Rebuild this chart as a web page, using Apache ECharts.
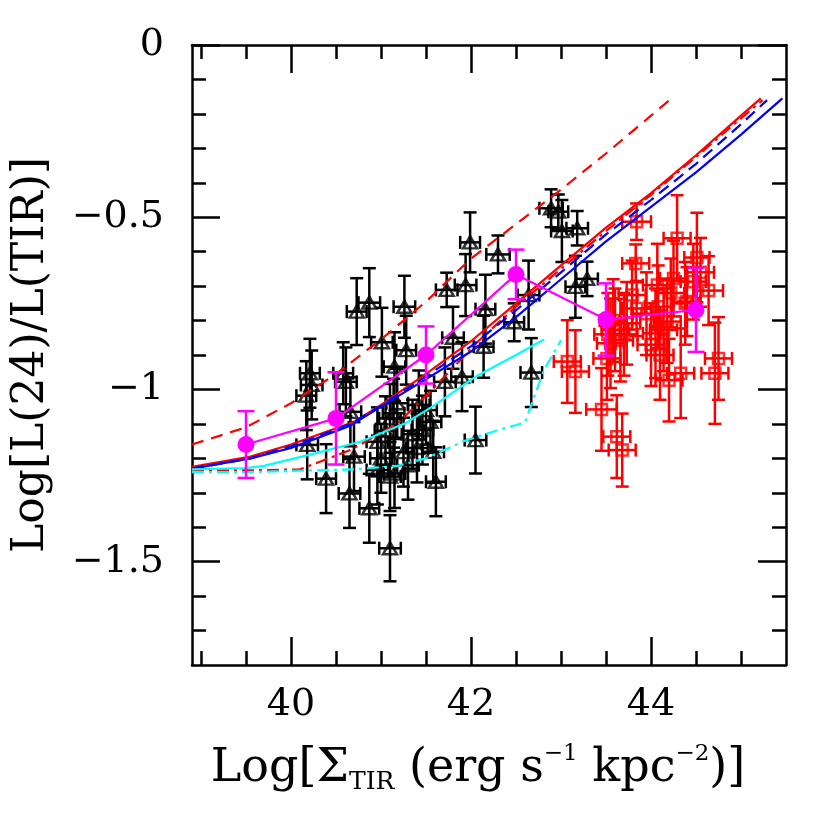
<!DOCTYPE html>
<html>
<head>
<meta charset="utf-8">
<script src="https://cdn.jsdelivr.net/npm/echarts@6.0.0/dist/echarts.min.js"></script>
<style>html,body{margin:0;padding:0;background:#fff;}#c{width:830px;height:830px;}</style>
</head>
<body>
<div id="c"></div>
<script>
// ---------- axis ticks ----------
const xMajor = [40, 42, 44];
const xMinor = [39, 39.5, 40.5, 41, 41.5, 42.5, 43, 43.5, 44.5, 45];
const yMajor = [0, -0.5, -1, -1.5];
const yMinor = [-0.1, -0.2, -0.3, -0.4, -0.6, -0.7, -0.8, -0.9, -1.1, -1.2, -1.3, -1.4, -1.6, -1.7];
const xTickLabels = ['40', '42', '44'];
const yTickLabels = ['0', '\u22120.5', '\u22121', '\u22121.5'];

// ---------- black triangles (x, y, xerr, yerr) ----------
const triX = [40.73,40.87,41.26,41.99,42.30,41.73,41.94,42.16,42.64,42.48,42.89,42.97,43.01,43.18,43.16,43.29,41.01,41.28,41.80,42.14,41.15,40.21,40.58,42.67,40.23,40.61,40.17,40.66,41.14,40.18,40.39,40.65,40.87,41.10,41.10,41.25,41.61,41.58,41.55,41.90,41.71,42.05,40.96,40.70,41.18,41.42,41.46,40.96,41.10,41.15,41.35,41.00,41.30,41.50,41.40,41.05];
const triY = [-0.774,-0.748,-0.760,-0.573,-0.608,-0.711,-0.697,-0.767,-0.726,-0.805,-0.474,-0.484,-0.540,-0.532,-0.702,-0.679,-0.863,-0.886,-0.850,-0.876,-0.934,-0.953,-0.953,-0.951,-0.987,-0.978,-1.018,-1.065,-1.069,-1.161,-1.259,-1.302,-1.345,-1.461,-1.253,-1.182,-1.268,-1.181,-1.094,-0.963,-0.978,-1.147,-1.152,-1.195,-1.040,-1.045,-1.118,-1.234,-1.084,-1.244,-1.130,-1.200,-1.220,-1.060,-1.170,-1.120];
const triXErr = [0.11,0.12,0.12,0.11,0.13,0.12,0.12,0.11,0.12,0.11,0.13,0.11,0.12,0.12,0.11,0.12,0.12,0.11,0.12,0.11,0.12,0.11,0.11,0.12,0.12,0.12,0.11,0.12,0.12,0.12,0.11,0.12,0.11,0.12,0.12,0.12,0.11,0.12,0.12,0.12,0.12,0.12,0.12,0.12,0.12,0.12,0.12,0.12,0.12,0.12,0.12,0.12,0.12,0.12,0.12,0.12];
const triYErr = [0.097,0.10,0.09,0.087,0.055,0.05,0.09,0.10,0.10,0.055,0.055,0.05,0.09,0.05,0.09,0.05,0.10,0.10,0.09,0.09,0.10,0.10,0.09,0.10,0.10,0.10,0.10,0.10,0.10,0.10,0.10,0.10,0.10,0.096,0.10,0.10,0.10,0.09,0.09,0.10,0.10,0.097,0.10,0.10,0.10,0.10,0.10,0.10,0.10,0.10,0.10,0.10,0.10,0.10,0.10,0.10];

// ---------- red squares (x, y, xerr, yerr) ----------
const sqX = [43.84,44.29,44.51,43.83,44.25,44.07,44.47,44.64,43.84,44.08,44.18,44.05,43.73,43.60,43.66,43.55,43.51,44.10,44.33,44.20,43.07,43.16,44.75,44.71,43.45,43.62,43.68,44.38,43.79,44.14,44.40,43.58,43.70,44.00,44.22,43.95,43.52,44.55];
const sqY = [-0.513,-0.561,-0.617,-0.634,-0.678,-0.697,-0.687,-0.713,-0.765,-0.760,-0.803,-0.837,-0.808,-0.827,-0.857,-0.866,-0.910,-0.900,-0.953,-0.973,-0.919,-0.948,-0.910,-0.953,-1.058,-1.137,-1.176,-0.750,-0.726,-0.827,-0.745,-0.800,-0.840,-0.870,-0.720,-0.780,-0.840,-0.660];
const sqXErr = [0.16,0.15,0.14,0.15,0.15,0.16,0.14,0.16,0.16,0.15,0.15,0.14,0.15,0.15,0.14,0.15,0.15,0.15,0.15,0.15,0.15,0.15,0.15,0.15,0.17,0.15,0.15,0.15,0.15,0.15,0.15,0.15,0.15,0.15,0.15,0.15,0.15,0.15];
const sqYErr = [0.053,0.125,0.13,0.055,0.11,0.12,0.11,0.10,0.08,0.12,0.12,0.13,0.12,0.12,0.12,0.13,0.12,0.13,0.13,0.12,0.12,0.12,0.12,0.147,0.12,0.12,0.106,0.12,0.10,0.12,0.10,0.12,0.12,0.12,0.10,0.12,0.12,0.10];

// ---------- magenta binned means ----------
const binX = [39.5, 40.5, 41.5, 42.5, 43.5, 44.5];
const binY = [-1.160, -1.084, -0.900, -0.666, -0.797, -0.769];
const binErr = [0.097, 0.134, 0.083, 0.072, 0.105, 0.122];

// ---------- model curves ----------
const redDashX = [38.9, 39.5, 40.0, 40.5, 41.0, 41.5, 42.0, 42.5, 43.0, 43.5, 44.0, 44.22];
const redDashY = [-1.16, -1.11, -1.04, -0.955, -0.855, -0.745, -0.62, -0.52, -0.42, -0.315, -0.205, -0.157];
const redSolidX = [38.9, 39.55, 40.0, 40.7, 41.0, 41.5, 42.0, 42.5, 43.0, 43.5, 44.0, 44.5, 45.0, 45.22];
const redSolidY = [-1.225, -1.195, -1.16, -1.094, -1.045, -0.955, -0.86, -0.75, -0.64, -0.53, -0.43, -0.32, -0.205, -0.155];
const redDotDashX = [38.9, 39.5, 40.1, 40.66, 41.18, 41.57, 42.08, 42.5, 43.0, 43.5, 44.0, 44.5, 45.0, 45.24];
const redDotDashY = [-1.235, -1.235, -1.232, -1.176, -1.10, -1.0, -0.86, -0.76, -0.65, -0.54, -0.435, -0.325, -0.213, -0.16];
const blueSolidX = [38.9, 39.55, 40.0, 40.66, 41.0, 41.5, 42.0, 42.5, 43.0, 43.5, 44.0, 44.5, 45.0, 45.46];
const blueSolidY = [-1.23, -1.2, -1.17, -1.105, -1.05, -0.97, -0.89, -0.79, -0.68, -0.57, -0.47, -0.37, -0.26, -0.155];
const blueDashX = [38.9, 39.55, 40.0, 40.66, 41.0, 41.5, 42.0, 42.5, 43.0, 43.5, 44.0, 44.5, 45.0, 45.29];
const blueDashY = [-1.23, -1.2, -1.165, -1.1, -1.047, -0.962, -0.875, -0.77, -0.66, -0.55, -0.45, -0.345, -0.23, -0.16];
const cyanSolidX = [38.9, 39.5, 39.7, 40.2, 40.77, 41.27, 41.57, 42.07, 42.5, 42.81];
const cyanSolidY = [-1.232, -1.228, -1.222, -1.19, -1.152, -1.098, -1.05, -0.96, -0.9, -0.855];
const cyanDotDashX = [38.9, 39.5, 40.1, 40.7, 41.18, 41.5, 41.92, 42.3, 42.6, 42.81, 43.0];
const cyanDotDashY = [-1.24, -1.24, -1.236, -1.232, -1.222, -1.2, -1.15, -1.118, -1.096, -0.944, -0.857];

// ---------- helpers ----------
const zip2 = (a, b) => a.map((v, i) => [v, b[i]]);
const zip4 = (a, b, c, d) => a.map((v, i) => [v, b[i], c[i], d[i]]);
const FONT = 'DejaVu Serif';
const EBW = 2.5;

function seg(x1, y1, x2, y2, color) {
  return { type: 'line', shape: { x1, y1, x2, y2 }, style: { stroke: color, lineWidth: EBW } };
}
function errRender(color, cap) {
  return function (params, api) {
    const x = api.value(0), y = api.value(1), xe = api.value(2), ye = api.value(3);
    const t = api.coord([x, y + ye]), b = api.coord([x, y - ye]);
    const ch = [
      seg(t[0], t[1], b[0], b[1], color),
      seg(t[0] - cap, t[1], t[0] + cap, t[1], color),
      seg(b[0] - cap, b[1], b[0] + cap, b[1], color)
    ];
    if (xe > 0) {
      const l = api.coord([x - xe, y]), r = api.coord([x + xe, y]);
      ch.push(seg(l[0], l[1], r[0], r[1], color));
      ch.push(seg(l[0], l[1] - cap, l[0], l[1] + cap, color));
      ch.push(seg(r[0], r[1] - cap, r[0], r[1] + cap, color));
    }
    return { type: 'group', children: ch };
  };
}
function curve(xs, ys, color, type) {
  return {
    type: 'line', data: zip2(xs, ys), showSymbol: false, symbol: 'none', silent: true,
    lineStyle: { color, width: 2.2, type }, z: 4, animation: false
  };
}

const axisCommon = { type: 'value', splitLine: { show: false }, scale: false };
const lineStyleK = { color: '#000', width: 2.5 };

function mkAxis(pos, min, max, ticks, len, showLine, labels) {
  const a = Object.assign({}, axisCommon, {
    position: pos, min, max,
    axisLine: { show: showLine, onZero: false, lineStyle: lineStyleK },
    axisTick: { show: true, inside: true, length: len, customValues: ticks, lineStyle: lineStyleK },
    axisLabel: { show: false }
  });
  if (labels) {
    a.axisLabel = {
      show: true, customValues: ticks, color: '#000', fontFamily: FONT, fontSize: 38,
      formatter: (v) => labels[ticks.indexOf(Math.round(v * 10) / 10)] || ''
    };
  }
  return a;
}

const xAxes = [
  mkAxis('bottom', 38.9, 45.5, xMajor, 28, true, xTickLabels),
  mkAxis('bottom', 38.9, 45.5, xMinor, 14, false, null),
  mkAxis('top', 38.9, 45.5, xMajor, 28, true, null),
  mkAxis('top', 38.9, 45.5, xMinor, 14, false, null)
];
xAxes[0].axisLabel.margin = 21;
xAxes[0].name = '{a|Log[\u03A3}{b|TIR}{a| (erg s}{c|\u22121}{a| kpc}{c|\u22122}{a|)]}';
xAxes[0].nameLocation = 'middle';
xAxes[0].nameGap = 78;
xAxes[0].nameTextStyle = {
  color: '#000', fontFamily: FONT, padding: [0, 22, 0, 0],
  rich: {
    a: { fontSize: 46, fontFamily: FONT, color: '#000', lineHeight: 52 },
    b: { fontSize: 25, fontFamily: FONT, color: '#000', verticalAlign: 'bottom', lineHeight: 4 },
    c: { fontSize: 23, fontFamily: FONT, color: '#000', verticalAlign: 'top', lineHeight: 32 }
  }
};

const yAxes = [
  mkAxis('left', -1.8, 0, yMajor, 28, true, yTickLabels),
  mkAxis('left', -1.8, 0, yMinor, 14, false, null),
  mkAxis('right', -1.8, 0, yMajor, 28, true, null),
  mkAxis('right', -1.8, 0, yMinor, 14, false, null)
];
yAxes[0].axisLabel.margin = 28;
yAxes[0].name = 'Log[L(24)/L(TIR)]';
yAxes[0].nameLocation = 'middle';
yAxes[0].nameRotate = 90;
yAxes[0].nameGap = 138;
yAxes[0].nameTextStyle = { color: '#000', fontFamily: FONT, fontSize: 44 };

const option = {
  animation: false,
  backgroundColor: '#fff',
  grid: { left: 192, right: 44, top: 45, bottom: 165, containLabel: false },
  xAxis: xAxes,
  yAxis: yAxes,
  series: [
    { type: 'custom', renderItem: errRender('#000', 6.5), data: zip4(triX, triY, triXErr, triYErr), encode: { x: 0, y: 1 }, z: 2, silent: true, clip: true },
    { type: 'scatter', data: zip2(triX, triY), symbol: 'triangle', symbolSize: [14, 12], z: 3, silent: true,
      itemStyle: { color: 'rgba(0,0,0,0)', borderColor: '#000', borderWidth: 2.5 } },
    { type: 'custom', renderItem: errRender('#ff0000', 6.5), data: zip4(sqX, sqY, sqXErr, sqYErr), encode: { x: 0, y: 1 }, z: 2, silent: true, clip: true },
    { type: 'scatter', data: zip2(sqX, sqY), symbol: 'rect', symbolSize: 11, z: 3, silent: true,
      itemStyle: { color: 'rgba(0,0,0,0)', borderColor: '#ff0000', borderWidth: 2.5 } },
    curve(redDashX, redDashY, '#ff0000', [12, 8]),
    curve(redSolidX, redSolidY, '#ff0000', 'solid'),
    curve(redDotDashX, redDotDashY, '#ff0000', [12, 5, 3, 5]),
    curve(blueDashX, blueDashY, '#0000ff', [12, 7]),
    curve(blueSolidX, blueSolidY, '#0000ff', 'solid'),
    curve(cyanSolidX, cyanSolidY, '#00ffff', 'solid'),
    curve(cyanDotDashX, cyanDotDashY, '#00ffff', [12, 5, 3, 5]),
    { type: 'custom', renderItem: errRender('#ff00ff', 8.5), data: zip4(binX, binY, binX.map(() => 0), binErr), encode: { x: 0, y: 1 }, z: 5, silent: true },
    { type: 'line', data: zip2(binX, binY), symbol: 'circle', symbolSize: 17, showSymbol: true, z: 6, silent: true,
      lineStyle: { color: '#ff00ff', width: 2.2 }, itemStyle: { color: '#ff00ff', borderWidth: 0 } }
  ]
};

const chart = echarts.init(document.getElementById('c'), null, { renderer: 'canvas' });
chart.setOption(option);
</script>
</body>
</html>
